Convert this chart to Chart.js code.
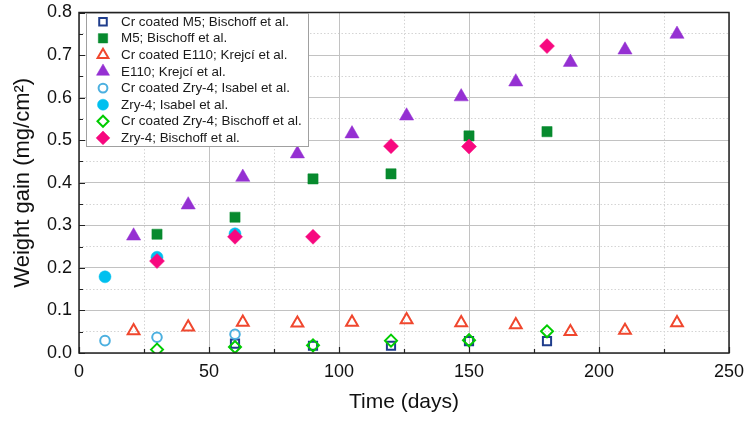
<!DOCTYPE html>
<html>
<head>
<meta charset="utf-8">
<script src="https://cdn.jsdelivr.net/npm/chart.js@4/dist/chart.umd.min.js"></script>
<style>
  html, body { margin: 0; padding: 0; background: #fff; }
  #wrap { width: 747px; height: 423px; }
</style>
</head>
<body>
<div id="wrap"><canvas id="c" width="747" height="423"></canvas></div>
<script>
// ---- Data ----
const seriesNames = [
  "Cr coated M5; Bischoff et al.",
  "M5; Bischoff et al.",
  "Cr coated E110; Krejcí et al.",
  "E110; Krejcí et al.",
  "Cr coated Zry-4; Isabel et al.",
  "Zry-4; Isabel et al.",
  "Cr coated Zry-4; Bischoff et al.",
  "Zry-4; Bischoff et al."
];

const crM5Days   = [60, 90, 120, 150, 180];
const crM5Gain   = [0.022, 0.017, 0.017, 0.028, 0.028];

const m5Days     = [30, 60, 90, 120, 150, 180];
const m5Gain     = [0.279, 0.319, 0.409, 0.421, 0.510, 0.520];

const crE110Days = [21, 42, 63, 84, 105, 126, 147, 168, 189, 210, 230];
const crE110Gain = [0.052, 0.061, 0.072, 0.070, 0.072, 0.078, 0.071, 0.066, 0.050, 0.053, 0.071];

const e110Days   = [21, 42, 63, 84, 105, 126, 147, 168, 189, 210, 230];
const e110Gain   = [0.275, 0.348, 0.413, 0.468, 0.515, 0.557, 0.602, 0.637, 0.683, 0.712, 0.749];

const crZryIsDays = [10, 30, 60];
const crZryIsGain = [0.029, 0.037, 0.044];

const zryIsDays  = [10, 30, 60];
const zryIsGain  = [0.179, 0.225, 0.280];

const crZryBiDays = [30, 60, 90, 120, 150, 180];
const crZryBiGain = [0.008, 0.014, 0.018, 0.029, 0.030, 0.051];

const zryBiDays  = [30, 60, 90, 120, 150, 180];
const zryBiGain  = [0.216, 0.273, 0.273, 0.486, 0.485, 0.721];

const xTickValues = [0, 50, 100, 150, 200, 250];
const yTickValues = [0.0, 0.1, 0.2, 0.3, 0.4, 0.5, 0.6, 0.7, 0.8];

// ---- styles ----
const styles = [
  { pointStyle: 'rect',     radius: 5.8, color: '#1f3d8c', filled: false },
  { pointStyle: 'rect',     radius: 7.2, color: '#078a2e', filled: true  },
  { pointStyle: 'triangle', radius: 6.8, color: '#f0472e', filled: false },
  { pointStyle: 'triangle', radius: 8.2, color: '#9530d2', filled: true  },
  { pointStyle: 'circle',   radius: 4.8, color: '#4cb0e0', filled: false },
  { pointStyle: 'circle',   radius: 6.0, color: '#00c0ef', filled: true  },
  { pointStyle: 'rectRot',  radius: 6.0, color: '#00cc00', filled: false },
  { pointStyle: 'rectRot',  radius: 7.5, color: '#f7087f', filled: true  }
];

const allDays  = [crM5Days, m5Days, crE110Days, e110Days, crZryIsDays, zryIsDays, crZryBiDays, zryBiDays];
const allGains = [crM5Gain, m5Gain, crE110Gain, e110Gain, crZryIsGain, zryIsGain, crZryBiGain, zryBiGain];

const datasets = seriesNames.map((name, i) => {
  const s = styles[i];
  return {
    label: name,
    data: allDays[i].map((d, j) => ({ x: d, y: allGains[i][j] })),
    pointStyle: s.pointStyle,
    pointRadius: s.radius,
    pointHoverRadius: s.radius,
    pointBackgroundColor: s.filled ? s.color : 'rgba(0,0,0,0)',
    pointBorderColor: s.color,
    pointBorderWidth: s.filled ? 0.5 : 2,
    showLine: false,
    order: seriesNames.length - i
  };
});

const FONT = "'Liberation Sans', Arial, sans-serif";

// Frame, inner tick marks and legend box
const decorPlugin = {
  id: 'decor',
  afterDraw(chart) {
    const ctx = chart.ctx;
    const a = chart.chartArea;
    const xs = chart.scales.x, ys = chart.scales.y;
    ctx.save();
    // inner ticks
    ctx.strokeStyle = '#222';
    ctx.lineWidth = 1.2;
    ctx.beginPath();
    for (let v = 0; v <= 250; v += 25) {
      const px = Math.round(xs.getPixelForValue(v)) + 0.5;
      const len = (v % 50 === 0) ? 6 : 4;
      ctx.moveTo(px, a.bottom);
      ctx.lineTo(px, a.bottom - len);
    }
    for (let k = 0; k <= 16; k++) {
      const v = k * 0.05;
      const py = Math.round(ys.getPixelForValue(v)) + 0.5;
      const len = (k % 2 === 0) ? 6 : 4;
      ctx.moveTo(a.left, py);
      ctx.lineTo(a.left + len, py);
    }
    ctx.stroke();
    // frame
    ctx.strokeStyle = '#222';
    ctx.lineWidth = 1.5;
    ctx.strokeRect(a.left, a.top, a.right - a.left, a.bottom - a.top);

    // legend
    const lx = 86, ly = 13, lw = 222, lh = 133;
    ctx.fillStyle = '#fff';
    ctx.fillRect(lx, ly, lw, lh);
    ctx.strokeStyle = '#a0a0a0';
    ctx.lineWidth = 1;
    ctx.strokeRect(lx + 0.5, ly + 0.5, lw, lh);
    const rowH = 16.6;
    ctx.font = "13.4px " + FONT;
    ctx.textBaseline = 'middle';
    ctx.textAlign = 'left';
    chart.data.datasets.forEach((ds, i) => {
      const s = styles[i];
      const cy = ly + 8.7 + rowH * i;
      ctx.fillStyle = s.filled ? s.color : '#fff';
      ctx.strokeStyle = s.color;
      ctx.lineWidth = s.filled ? 0.5 : 2;
      Chart.helpers.drawPoint(ctx, {
        pointStyle: s.pointStyle,
        radius: s.radius * 0.92,
        rotation: 0,
        borderWidth: s.filled ? 0.5 : 2
      }, 103, cy);
      ctx.fillStyle = '#1a1a1a';
      ctx.fillText(ds.label, 121, cy + 0.5);
    });
    ctx.restore();
  }
};

new Chart(document.getElementById('c'), {
  type: 'scatter',
  data: { datasets },
  options: {
    responsive: false,
    animation: false,
    devicePixelRatio: 1,
    layout: { padding: { top: 12.5, right: 18, left: 0, bottom: 0 } },
    plugins: { legend: { display: false }, tooltip: { enabled: false } },
    scales: {
      x2: {
        type: 'linear', position: 'bottom', min: 0, max: 250,
        ticks: { display: false, stepSize: 25 },
        grid: {
          drawTicks: false,
          color: (c) => (c.tick && c.tick.value % 50 === 0) ? 'rgba(0,0,0,0)' : '#d4d4d4',
          lineWidth: 1
        },
        border: { display: false, dash: [1.5, 2] },
        afterFit: (s) => { s.height = 0; s.paddingLeft = 0; s.paddingRight = 0; }
      },
      y2: {
        type: 'linear', position: 'left', min: 0, max: 0.8,
        ticks: { display: false, stepSize: 0.05 },
        grid: {
          drawTicks: false,
          color: (c) => (c.tick && Math.abs(Math.round(c.tick.value * 20)) % 2 === 0) ? 'rgba(0,0,0,0)' : '#d4d4d4',
          lineWidth: 1
        },
        border: { display: false, dash: [1.5, 2] },
        afterFit: (s) => { s.width = 0; s.paddingTop = 0; s.paddingBottom = 0; }
      },
      x: {
        type: 'linear', position: 'bottom', min: 0, max: 250,
        afterBuildTicks: (s) => { s.ticks = xTickValues.map(v => ({ value: v })); },
        ticks: {
          stepSize: 50, padding: 8, color: '#111',
          font: { family: FONT, size: 18 },
          maxRotation: 0,
          callback: (v) => String(v)
        },
        grid: { drawTicks: false, color: '#c2c2c2', lineWidth: 1 },
        border: { display: false },
        title: {
          display: true, text: 'Time (days)', color: '#111',
          font: { family: FONT, size: 21 },
          padding: { top: 0, bottom: 8 }
        },
        afterFit: (s) => { s.height = 70; s.paddingLeft = 0; s.paddingRight = 0; }
      },
      y: {
        type: 'linear', position: 'left', min: 0, max: 0.8,
        afterBuildTicks: (s) => { s.ticks = yTickValues.map(v => ({ value: v })); },
        ticks: {
          stepSize: 0.1, padding: 7, color: '#111',
          font: { family: FONT, size: 18 },
          callback: (v) => Number(v).toFixed(1)
        },
        grid: { drawTicks: false, color: '#c2c2c2', lineWidth: 1 },
        border: { display: false },
        title: {
          display: true, text: 'Weight gain (mg/cm²)', color: '#111',
          font: { family: FONT, size: 22 },
          padding: { top: 10, bottom: 0 }
        },
        afterFit: (s) => { s.width = 79; s.paddingTop = 0; s.paddingBottom = 0; }
      }
    }
  },
  plugins: [decorPlugin]
});
</script>
</body>
</html>
